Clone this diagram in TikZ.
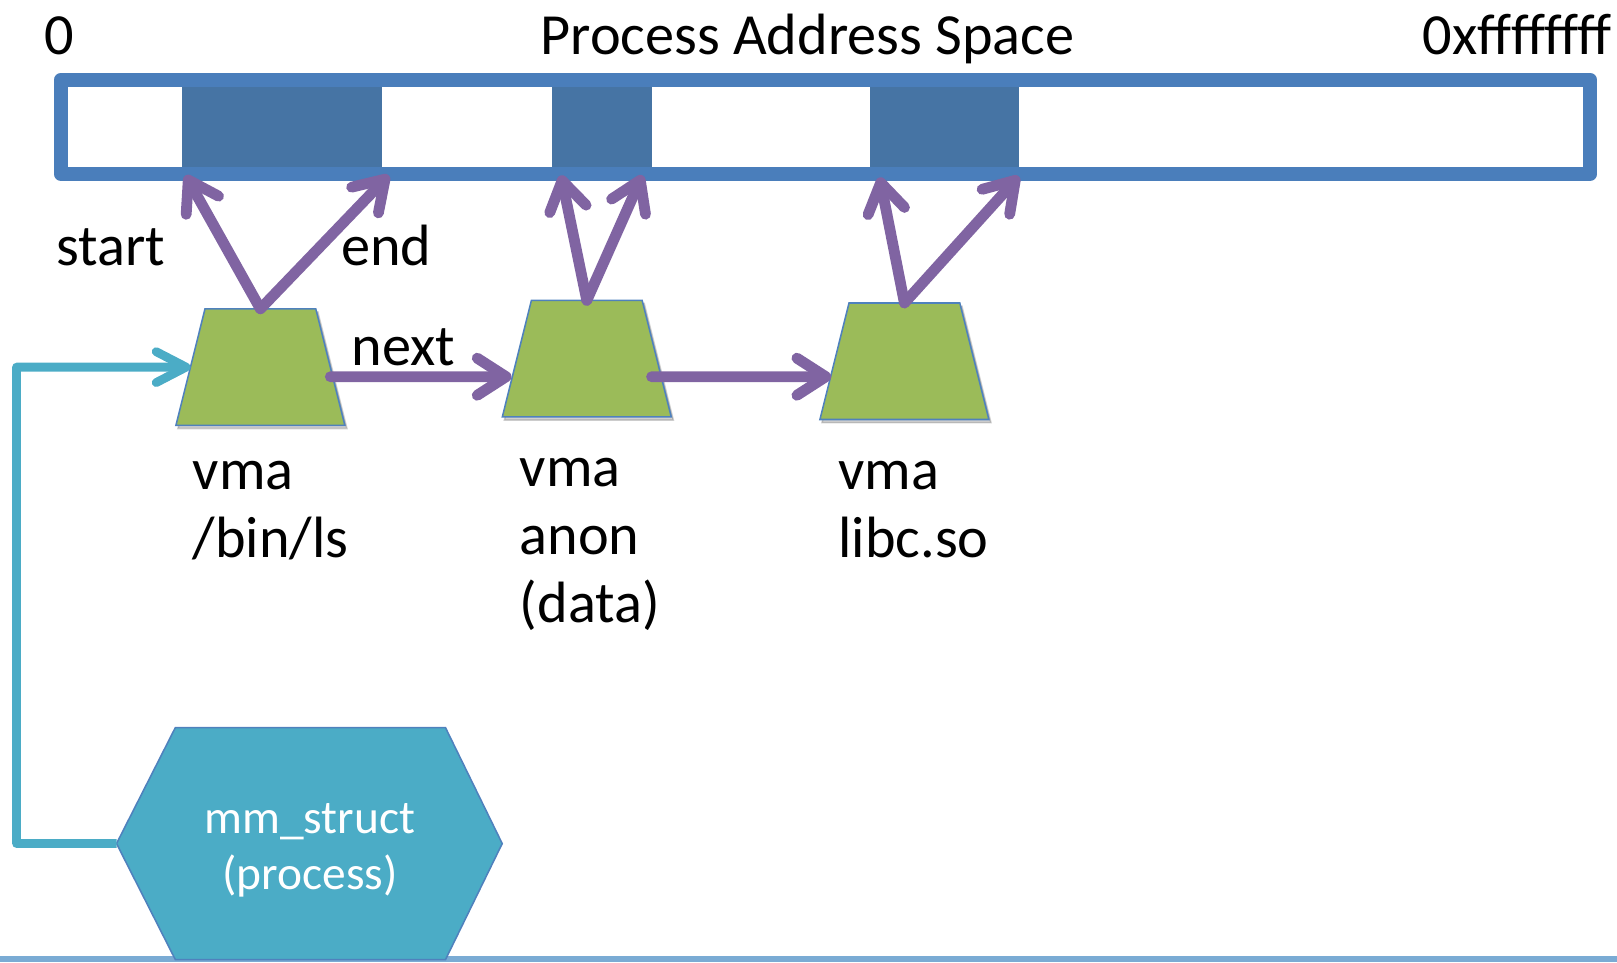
\documentclass[tikz,border=0pt]{standalone}
\usepackage{fontspec}
\setmainfont{Carlito}
\usetikzlibrary{arrows.meta,shapes.geometric}
\definecolor{barblue}{RGB}{74,126,187}
\definecolor{segblue}{RGB}{70,116,164}
\definecolor{vmagreen}{RGB}{155,187,89}
\definecolor{edgeblue}{RGB}{79,129,189}
\definecolor{ptrpurple}{RGB}{128,100,162}
\definecolor{linkcyan}{RGB}{75,172,198}
\definecolor{bandblue}{RGB}{122,171,212}
\begin{document}
\begin{tikzpicture}[x=1pt,y=-1pt,
  lbl/.style={font=\fontsize{56.5}{66}\selectfont, inner sep=0pt, outer sep=0pt, align=left},
  mmtext/.style={font=\fontsize{46}{55}\selectfont, text=white, inner sep=0pt, align=center},
  softshadow/.style={preaction={draw=black, draw opacity=0.18, fill opacity=0.18, fill=black,
     transform canvas={shift={(2pt,-3pt)}}}},
  lineshadow/.style={preaction={draw=black!55, draw opacity=0.3,
     transform canvas={shift={(1.5pt,-3.5pt)}}}},
  vmabox/.style={trapezium, trapezium stretches=true, trapezium angle=76,
     minimum width=164pt, minimum height=113pt, fill=vmagreen, draw=edgeblue,
     line width=1.5pt, inner sep=2pt, outer sep=0pt},
  segbox/.style={fill=segblue, draw=none, inner sep=0pt, outer sep=0pt, minimum height=77pt},
  ptr/.style={draw=ptrpurple, line width=10.5pt, line cap=round,
     -{Straight Barb[length=28pt,width=36pt,round]}, lineshadow},
  link/.style={draw=linkcyan, line width=8.5pt, line join=round,
     -{Straight Barb[length=29pt,width=30pt,round]}, lineshadow},
  hexshape/.style={fill=linkcyan, draw=edgeblue, line width=1.5pt}
]
\useasboundingbox (0,0) rectangle (1568,933);

% bottom band
\fill[bandblue] (0,927) rectangle (1568,933);

% address space segments and bar
\node[segbox, minimum width=194pt] (seg1) at (273.2,123.2) {};
\node[segbox, minimum width=97pt] (seg2) at (583.5,123.2) {};
\node[segbox, minimum width=144pt] (seg3) at (916,123.2) {};
\node[draw=barblue, line width=14pt, line join=round, minimum width=1483pt,
      minimum height=91pt, inner sep=0pt, outer sep=0pt] (bar) at (800.5,123) {};

% titles
\node[lbl, anchor=base west] (zero) at (43,53.3) {0};
\node[lbl, anchor=base] (title) at (783,53.3) {Process Address Space};
\node[lbl, anchor=base east] (maxaddr) at (1563,53.3) {0xffffffff};

% vma nodes
\node[vmabox, softshadow] (t1) at (252.5,356) {\phantom{x}};
\node[vmabox, softshadow] (t2) at (569,347.8) {\phantom{x}};
\node[vmabox, softshadow] (t3) at (877,350.3) {\phantom{x}};

% labels
\node[lbl, anchor=base west] (start) at (55,257) {start};
\node[lbl, anchor=base west] (endlbl) at (331,257) {end};
\node[lbl, anchor=base west] (nextlbl) at (341,354) {next};
\node[lbl, anchor=north west] (v1) at (187,447) {vma\\/bin/ls};
\node[lbl, anchor=north west] (v2) at (504,444) {vma\\anon\\(data)};
\node[lbl, anchor=north west] (v3) at (813,447) {vma\\libc.so};

% pointer targets on the bar
\coordinate (s1) at (180,170);
\coordinate (e1) at (377,170);
\coordinate (s2) at (544,170);
\coordinate (e2) at (623,170);
\coordinate (s3) at (853,172);
\coordinate (e3) at (988,171);
\coordinate (n1) at (496,365.3);
\coordinate (n2) at (806,365.3);

\draw[ptr] (t1.north) -- (s1);
\draw[ptr] (t1.north) -- (e1);
\draw[ptr] (t2.north) -- (s2);
\draw[ptr] (t2.north) -- (e2);
\draw[ptr] (t3.north) -- (s3);
\draw[ptr] (t3.north) -- (e3);
\draw[ptr] ([yshift=-9.3pt]t1.east) -- (n1);
\draw[ptr] ([xshift=-5pt,yshift=-17.5pt]t2.east) -- (n2);

% mm_struct
\path[hexshape] (170,705.6) -- (432,705.6) -- (487,818) -- (432,930.5)
   -- (170,930.5) -- (113,818) -- cycle;
\coordinate (hexW) at (113,818);
\node[mmtext] (mm) at (300.5,824.5) {mm\_struct\\(process)};
\coordinate (corner) at (16,356);
\draw[link] (hexW) -| (corner) -- (t1.west);
\end{tikzpicture}
\end{document}
